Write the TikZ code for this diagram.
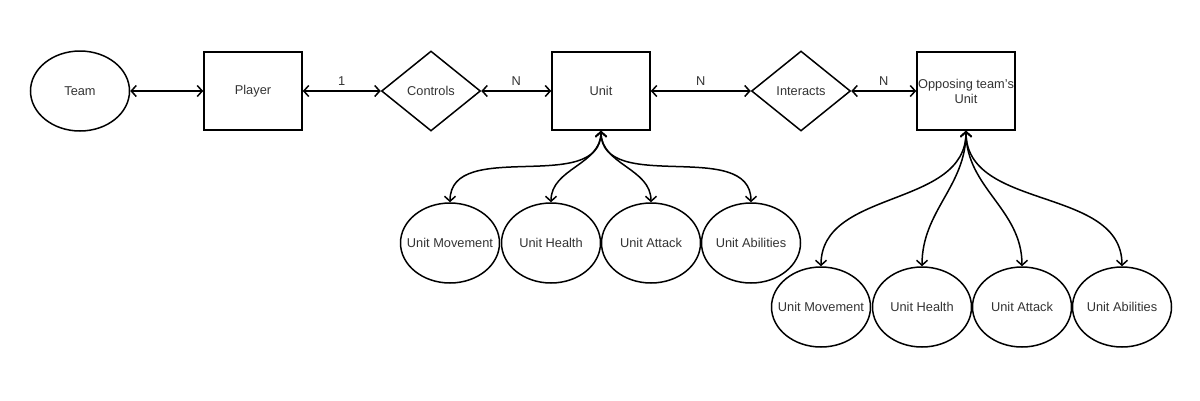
\documentclass[tikz,border=0pt]{standalone}
\usepackage{fontspec}
\setmainfont{Liberation Sans}
\usetikzlibrary{shapes.geometric,arrows.meta}
\newcommand{\zb}[1]{\makebox[0pt]{#1}}
\tikzset{
  every node/.style={font=\fontsize{12.8}{15}\selectfont, text=black!80},
  ent/.style={draw=black, line width=1.5pt, minimum width=98pt, minimum height=78pt, inner sep=0pt},
  attr/.style={draw=black, line width=1.5pt, ellipse, minimum width=99pt, minimum height=80pt, inner sep=0pt},
  rel/.style={draw=black, line width=1.5pt, diamond, minimum width=99pt, minimum height=80pt, inner sep=0pt},
  conn/.style={draw=black, line width=1.5pt, {Straight Barb[length=5pt,width=11pt]}-{Straight Barb[length=5pt,width=11pt]}},
  lbl/.style={font=\fontsize{12.8}{15}\selectfont}
}
\begin{document}
\begin{tikzpicture}[x=1pt,y=-1pt]
\useasboundingbox (0,0) rectangle (1200,400);
\node[attr] (team) at (80,91) {\zb{Team}};
\node[ent] (player) at (253,91) {\zb{Player}};
\node[rel] (controls) at (431,91) {\zb{Controls}};
\node[ent] (unit) at (601,91) {\zb{Unit}};
\node[rel] (interacts) at (801,91) {\zb{Interacts}};
\node[ent, align=center] (opp) at (966,91) {\zb{Opposing team's}\\Unit};

\node[attr] (m1) at (450,243) {\zb{Unit Movement}};
\node[attr] (h1) at (551,243) {\zb{Unit Health}};
\node[attr] (a1) at (651,243) {\zb{Unit Attack}};
\node[attr] (b1) at (751,243) {\zb{Unit Abilities}};

\node[attr] (m2) at (821,307) {\zb{Unit Movement}};
\node[attr] (h2) at (922,307) {\zb{Unit Health}};
\node[attr] (a2) at (1022,307) {\zb{Unit Attack}};
\node[attr] (b2) at (1122,307) {\zb{Unit Abilities}};

\draw[conn] (team) -- (player);
\draw[conn] (player) -- node[lbl, above, pos=0.5, yshift=1pt]{1} (controls);
\draw[conn] (controls) -- node[lbl, above, yshift=1pt]{N} (unit);
\draw[conn] (unit) -- node[lbl, above, yshift=1pt]{N} (interacts);
\draw[conn] (interacts) -- node[lbl, above, yshift=1pt]{N} (opp);

\foreach \t in {m1,h1,a1,b1}
  \draw[conn] (unit.south) to[out=-90,in=90] (\t.north);
\foreach \t in {m2,h2,a2,b2}
  \draw[conn] (opp.south) to[out=-90,in=90] (\t.north);
\end{tikzpicture}
\end{document}
